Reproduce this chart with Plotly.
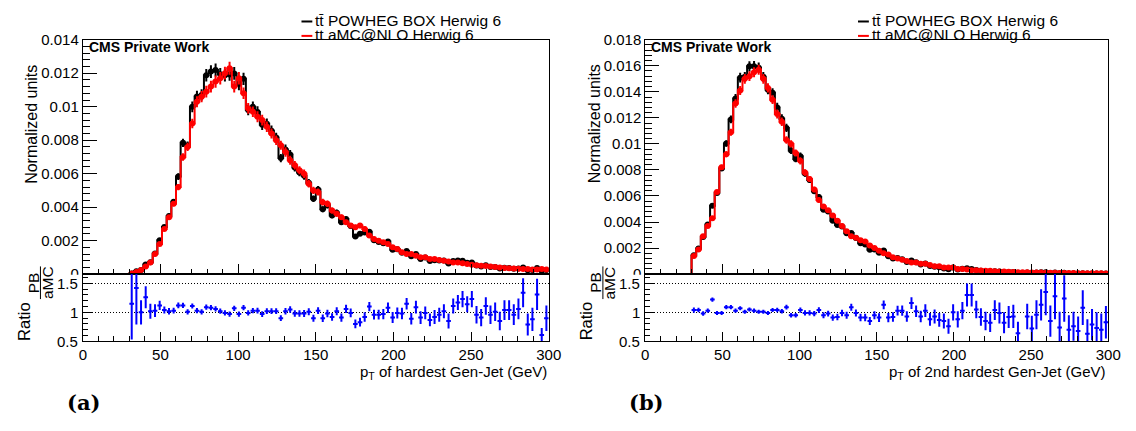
import numpy as np
import plotly.graph_objects as go

W, H = 1136, 431

# Binning: 100 bins of 3 GeV from 0 to 300 GeV; the first 10 bins (0-30 GeV) are empty
BIN_W = 3.0
N_BINS = 100
N_EMPTY = 10

# ---------------- (a) hardest Gen-Jet pT ----------------
# aMC@NLO normalized yield per bin, 30-33 GeV ... 297-300 GeV
amc_a = [
    0.00003, 0.00012, 0.00025, 0.00045, 0.0007, 0.0012, 0.0018, 0.0027, 0.0034, 0.0042,
    0.0052, 0.0070, 0.0076, 0.0090, 0.0103, 0.0106, 0.0109, 0.0112, 0.0115, 0.0117,
    0.0120, 0.0123, 0.0112, 0.0117, 0.0108, 0.0099, 0.0097, 0.0094, 0.0092, 0.0088,
    0.0084, 0.0080, 0.0077, 0.0073, 0.0068, 0.0065, 0.0062, 0.0060, 0.0054, 0.0050,
    0.0049, 0.0043, 0.0042, 0.0038, 0.0036, 0.0034, 0.0031, 0.0029, 0.0028, 0.0029,
    0.0027, 0.0023, 0.0021, 0.0020, 0.0019, 0.0018, 0.0016, 0.0015, 0.0013, 0.0012,
    0.0012, 0.0011, 0.0010, 0.0010, 0.0009, 0.0009, 0.00085, 0.0008, 0.00075, 0.0007,
    0.0007, 0.00065, 0.0006, 0.00056, 0.00053, 0.0005, 0.00048, 0.00045, 0.00042, 0.0004,
    0.00037, 0.00035, 0.00033, 0.00032, 0.0003, 0.0003, 0.00028, 0.00028, 0.0003, 0.00028,
]
# POWHEG / aMC@NLO ratio per bin
ratio_a = [
    1.15, 1.42, 1.00, 1.26, 1.02, 1.03, 1.12, 1.04, 1.02, 1.03,
    1.12, 1.12, 1.01, 1.11, 1.03, 1.01, 1.09, 1.08, 1.06, 1.02,
    0.99, 0.97, 1.07, 0.97, 1.08, 0.99, 1.03, 1.03, 0.97, 1.02,
    1.02, 1.02, 0.90, 1.02, 1.05, 0.98, 0.98, 0.98, 1.01, 0.90,
    1.03, 0.90, 0.98, 0.92, 1.02, 0.91, 1.06, 0.99, 0.80, 0.83,
    0.92, 1.10, 0.96, 0.96, 0.97, 1.08, 0.91, 0.99, 0.98, 1.15,
    0.89, 1.09, 0.91, 0.99, 0.87, 0.92, 0.96, 1.02, 0.85, 1.11,
    1.17, 1.23, 1.14, 1.23, 0.96, 0.91, 1.11, 0.96, 1.01, 0.85,
    1.04, 1.04, 0.96, 1.06, 1.34, 0.79, 0.88, 1.31, 0.61, 0.90,
]
ratio_err_a = [
    0.62, 0.63, 0.21, 0.19, 0.13, 0.11, 0.08, 0.06, 0.055, 0.05,
    0.05, 0.045, 0.045, 0.045, 0.045, 0.045, 0.045, 0.045, 0.045, 0.045,
    0.045, 0.045, 0.045, 0.045, 0.045, 0.045, 0.045, 0.05, 0.05, 0.05,
    0.05, 0.05, 0.05, 0.055, 0.055, 0.055, 0.055, 0.06, 0.06, 0.06,
    0.06, 0.065, 0.065, 0.065, 0.07, 0.07, 0.07, 0.075, 0.075, 0.075,
    0.08, 0.08, 0.085, 0.085, 0.09, 0.09, 0.095, 0.095, 0.1, 0.1,
    0.1, 0.11, 0.11, 0.11, 0.11, 0.12, 0.12, 0.12, 0.13, 0.13,
    0.13, 0.14, 0.14, 0.14, 0.15, 0.15, 0.15, 0.16, 0.16, 0.16,
    0.17, 0.17, 0.18, 0.18, 0.25, 0.19, 0.2, 0.27, 0.12, 0.22,
]

# ---------------- (b) 2nd hardest Gen-Jet pT ----------------
amc_b = [
    0.0014, 0.0019, 0.0029, 0.0037, 0.0043, 0.0063, 0.0082, 0.0092, 0.0109, 0.0131,
    0.0141, 0.0150, 0.0152, 0.0155, 0.0157, 0.0150, 0.0143, 0.0134, 0.0123, 0.0117,
    0.0103, 0.0100, 0.0093, 0.0087, 0.0078, 0.0073, 0.0065, 0.0057, 0.0052, 0.0049,
    0.0045, 0.0041, 0.0037, 0.0033, 0.0029, 0.0028, 0.0026, 0.0025, 0.0022, 0.0020,
    0.0018, 0.0016, 0.0015, 0.0013, 0.0012, 0.0011, 0.0010, 0.0009, 0.0009, 0.0008,
    0.0008, 0.0007, 0.0006, 0.0006, 0.0005, 0.0005, 0.0005, 0.0004, 0.0004, 0.00035,
    0.0003, 0.0003, 0.00028, 0.00025, 0.00025, 0.00022, 0.0002, 0.0002, 0.00018, 0.00017,
    0.00015, 0.00015, 0.00014, 0.00013, 0.00012, 0.00012, 0.0001, 0.0001, 0.0001, 0.00009,
    0.00009, 0.00008, 0.00008, 0.00007, 0.00007, 0.00007, 0.00006, 0.00006, 0.00006, 0.00005,
]
ratio_b = [
    1.04, 1.04, 0.98, 1.03, 1.22, 0.99, 0.99, 1.09, 1.09, 1.03,
    1.07, 1.01, 1.05, 1.03, 1.01, 1.01, 0.99, 1.04, 1.04, 1.02,
    1.09, 0.95, 0.95, 1.04, 0.99, 0.99, 0.98, 1.04, 0.95, 0.98,
    0.91, 0.92, 0.99, 0.95, 1.09, 0.99, 0.91, 0.91, 0.85, 0.95,
    0.91, 1.13, 0.91, 0.92, 1.03, 1.03, 0.93, 1.16, 1.02, 0.93,
    1.03, 0.88, 0.93, 0.87, 0.85, 0.76, 1.00, 0.88, 1.03, 1.30,
    1.30, 1.05, 0.92, 0.85, 0.82, 1.04, 0.99, 0.82, 0.92, 0.93,
    0.64, 0.42, 0.93, 0.72, 0.96, 1.13, 1.35, 0.85, 1.28, 0.74,
    1.24, 0.70, 0.76, 0.68, 1.08, 0.63, 0.79, 0.73, 0.70, 0.83,
]
ratio_err_b = [
    0.045, 0.04, 0.04, 0.035, 0.035, 0.035, 0.035, 0.035, 0.035, 0.035,
    0.035, 0.035, 0.035, 0.035, 0.035, 0.035, 0.035, 0.035, 0.04, 0.04,
    0.04, 0.04, 0.04, 0.045, 0.045, 0.045, 0.045, 0.05, 0.05, 0.05,
    0.055, 0.055, 0.055, 0.06, 0.06, 0.06, 0.065, 0.065, 0.07, 0.07,
    0.075, 0.075, 0.08, 0.08, 0.085, 0.09, 0.09, 0.1, 0.1, 0.1,
    0.11, 0.11, 0.12, 0.12, 0.13, 0.13, 0.14, 0.14, 0.15, 0.2,
    0.2, 0.15, 0.15, 0.16, 0.16, 0.17, 0.18, 0.18, 0.19, 0.2,
    0.2, 0.06, 0.22, 0.22, 0.25, 0.27, 0.4, 0.27, 0.4, 0.27,
    0.4, 0.25, 0.25, 0.25, 0.3, 0.25, 0.27, 0.27, 0.28, 0.28,
]

X_TITLES = ["p<sub>T</sub> of hardest Gen-Jet (GeV)",
            "p<sub>T</sub> of 2nd hardest Gen-Jet (GeV)"]
Y_MAX = [0.014, 0.018]
LEGEND_LABELS = ["tt\u0304 POWHEG BOX Herwig 6", "tt aMC@NLO Herwig 6"]
CAPTIONS = ["(a)", "(b)"]

FONT = "Liberation Sans, Arial, Helvetica, sans-serif"
BLACK, RED, BLUE = "#000000", "#ff0000", "#0000ff"


def px(x):
    return x / W


def py(y):
    return 1 - y / H


edges = np.arange(N_BINS + 1) * BIN_W
centers = edges[:-1] + BIN_W / 2

fig = go.Figure()

# pixel geometry of the two pads
panels = [
    dict(left=80, right=553, leg_x=302, key=("x", "y", "x2", "y2")),
    dict(left=651, right=1121, leg_x=867, key=("x3", "y3", "x4", "y4")),
]
TOP, MID, BOT = 32, 276, 346

shapes = []
annotations = []
layout_axes = {}

datasets = [(amc_a, ratio_a, ratio_err_a), (amc_b, ratio_b, ratio_err_b)]

for i, (amc, ratio, rerr) in enumerate(datasets):
    p = panels[i]
    xm, ym, xr, yr = p["key"]
    amc = np.asarray(amc)
    ratio = np.asarray(ratio)
    rerr = np.asarray(rerr)
    pb = amc * ratio

    amc_full = np.zeros(N_BINS)
    pb_full = np.zeros(N_BINS)
    amc_full[N_EMPTY:] = amc
    pb_full[N_EMPTY:] = pb
    xc = centers[N_EMPTY:]

    # statistical uncertainty of each sample (ratio error shared between both)
    amc_err = amc * rerr / np.sqrt(2)
    pb_err = pb * rerr / np.sqrt(2)

    for vals_full, vals, errs, color in [(pb_full, pb, pb_err, BLACK),
                                         (amc_full, amc, amc_err, RED)]:
        fig.add_trace(go.Scatter(
            x=edges, y=np.append(vals_full, vals_full[-1]),
            mode="lines", line=dict(color=color, width=2, shape="hv"),
            xaxis=xm, yaxis=ym, showlegend=False, hoverinfo="skip"))
        fig.add_trace(go.Scatter(
            x=xc, y=vals, mode="markers",
            marker=dict(size=0, color=color),
            error_y=dict(type="data", array=errs, width=0, thickness=2, color=color),
            xaxis=xm, yaxis=ym, showlegend=False, hoverinfo="skip"))

    fig.add_trace(go.Scatter(
        x=xc, y=ratio, mode="markers",
        marker=dict(size=2, color=BLUE),
        error_x=dict(type="constant", value=BIN_W / 2, width=0, thickness=2, color=BLUE),
        error_y=dict(type="data", array=rerr, width=0, thickness=2, color=BLUE),
        xaxis=xr, yaxis=yr, showlegend=False, hoverinfo="skip"))

    xdom = [px(p["left"]), px(p["right"])]
    common = dict(showline=True, mirror=True, linecolor=BLACK, linewidth=1,
                  showgrid=False, zeroline=False, ticks="inside", tickcolor=BLACK,
                  tickwidth=1, tickfont=dict(family=FONT, size=15, color=BLACK))
    sfx = lambda k: "" if k in ("x", "y") else k[1:]
    layout_axes["xaxis" + sfx(xm)] = dict(
        common, domain=xdom, anchor=ym, range=[0, 300], dtick=50, tick0=0,
        ticklen=10, showticklabels=False, matches=xr,
        minor=dict(ticks="inside", ticklen=5, dtick=10, tick0=0, tickcolor=BLACK))
    layout_axes["yaxis" + sfx(ym)] = dict(
        common, domain=[py(MID), py(TOP)], anchor=xm, range=[0, Y_MAX[i]],
        dtick=0.002, tick0=0, ticklen=14,
        minor=dict(ticks="inside", ticklen=7, dtick=0.0004, tick0=0, tickcolor=BLACK))
    layout_axes["xaxis" + sfx(xr)] = dict(
        common, domain=xdom, anchor=yr, range=[0, 300], dtick=50, tick0=0,
        ticklen=9,
        minor=dict(ticks="inside", ticklen=5, dtick=10, tick0=0, tickcolor=BLACK))
    layout_axes["yaxis" + sfx(yr)] = dict(
        common, domain=[py(BOT), py(MID)], anchor=xr, range=[0.5, 1.66],
        dtick=0.5, tick0=0.5, ticklen=9, showticklabels=False,
        showgrid=True, gridcolor=BLACK, gridwidth=1, griddash="1px,2px",
        minor=dict(ticks="inside", ticklen=5, dtick=0.1, tick0=0.5, tickcolor=BLACK))

    # ratio y tick labels (drawn above the mask hiding the lower half of the main "0")
    for v in (0.5, 1, 1.5):
        annotations.append(dict(text=f"{v:g}", x=px(p["left"] - 3), xref="paper",
                                y=v, yref=yr, xanchor="right", yanchor="middle",
                                showarrow=False, font=dict(family=FONT, size=15)))
    # the ratio pad overlaps the bottom of the main-pad "0" label
    shapes.append(dict(type="rect", xref="paper", yref="paper", layer="above",
                       x0=px(p["left"] - 40), x1=px(p["left"] - 1.5),
                       y0=py(283), y1=py(276.6),
                       fillcolor="white", line=dict(width=0)))

    off = p["left"] - 80
    # y titles
    annotations.append(dict(text="Normalized units", x=px(28 + off), y=py(120),
                            xref="paper", yref="paper", textangle=-90,
                            xanchor="center", yanchor="middle", showarrow=False,
                            font=dict(family=FONT, size=16)))
    annotations.append(dict(text="Ratio", x=px(20 + off), y=py(325),
                            xref="paper", yref="paper", textangle=-90,
                            xanchor="center", yanchor="middle", showarrow=False,
                            font=dict(family=FONT, size=16.5)))
    annotations.append(dict(text="PB", x=px(30 + off), y=py(285),
                            xref="paper", yref="paper", textangle=-90,
                            xanchor="center", yanchor="middle", showarrow=False,
                            font=dict(family=FONT, size=15.5)))
    annotations.append(dict(text="aMC", x=px(44 + off), y=py(285),
                            xref="paper", yref="paper", textangle=-90,
                            xanchor="center", yanchor="middle", showarrow=False,
                            font=dict(family=FONT, size=15.5)))
    shapes.append(dict(type="line", xref="paper", yref="paper",
                       x0=px(37 + off), x1=px(37 + off), y0=py(268), y1=py(302),
                       line=dict(color=BLACK, width=1)))
    # x title
    annotations.append(dict(text=X_TITLES[i], x=px(p["right"]), y=py(378),
                            xref="paper", yref="paper", xanchor="right",
                            yanchor="middle", showarrow=False,
                            font=dict(family=FONT, size=15)))
    # CMS label
    annotations.append(dict(text="<b>CMS Private Work</b>", x=px(p["left"] + 4),
                            y=py(40), xref="paper", yref="paper", xanchor="left",
                            yanchor="middle", showarrow=False,
                            font=dict(family=FONT, size=14)))
    # legend
    for j, (lab, col) in enumerate(zip(LEGEND_LABELS, [BLACK, RED])):
        yy = 12 + 15 * j
        shapes.append(dict(type="line", xref="paper", yref="paper",
                           x0=px(p["leg_x"]), x1=px(p["leg_x"] + 11),
                           y0=py(yy + 1), y1=py(yy + 1),
                           line=dict(color=col, width=2)))
        annotations.append(dict(text=lab, x=px(p["leg_x"] + 12), y=py(yy),
                                xref="paper", yref="paper", xanchor="left",
                                yanchor="middle", showarrow=False,
                                font=dict(family=FONT, size=15.5)))
    # sub-figure caption
    annotations.append(dict(text=f"<b>{CAPTIONS[i]}</b>", x=px(81 + off), y=py(410),
                            xref="paper", yref="paper", xanchor="center",
                            yanchor="middle", showarrow=False,
                            font=dict(family="DejaVu Serif, serif", size=21)))

fig.update_layout(
    width=W, height=H, margin=dict(l=0, r=0, t=0, b=0),
    paper_bgcolor="white", plot_bgcolor="white",
    font=dict(family=FONT, color=BLACK), showlegend=False,
    shapes=shapes, annotations=annotations, **layout_axes)

fig.write_html("out.html")
